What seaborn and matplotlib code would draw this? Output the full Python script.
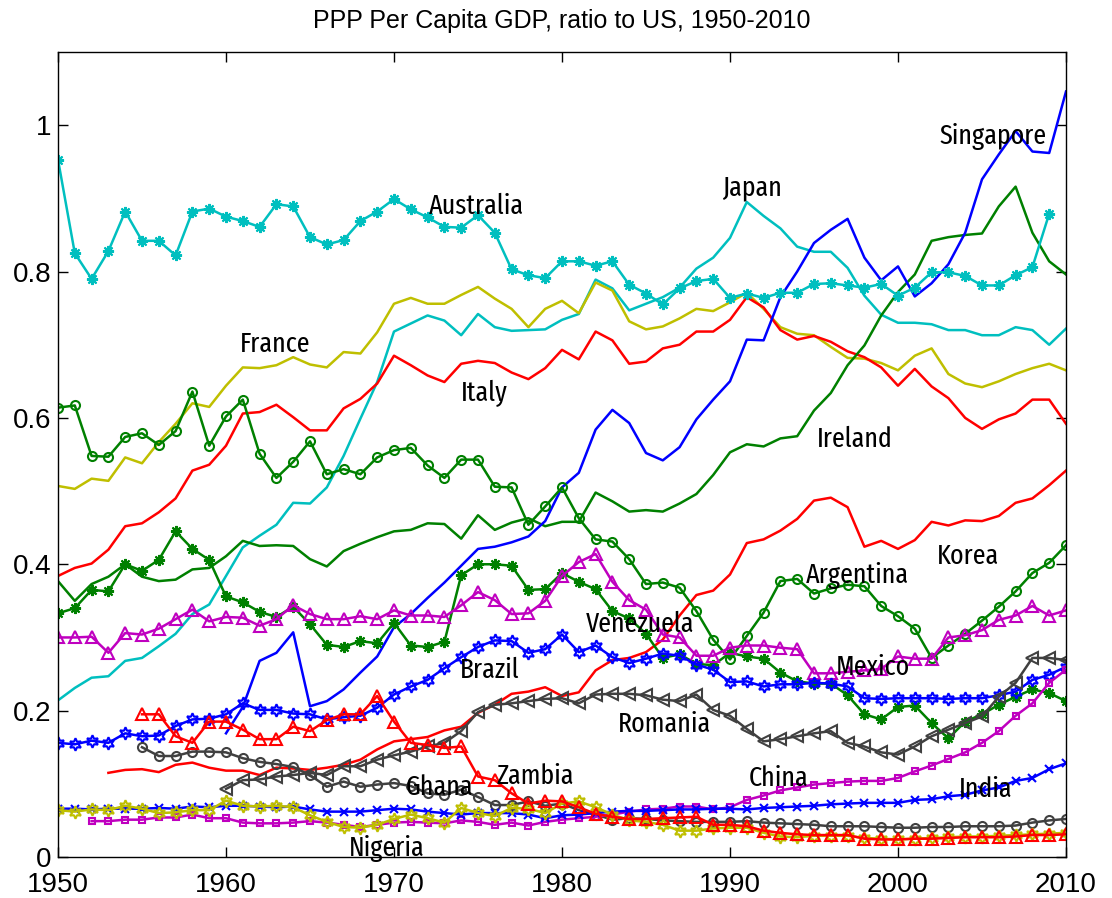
import os
import numpy as np
import pandas as pd
import matplotlib
matplotlib.use("Agg")
import matplotlib.pyplot as plt
from matplotlib import font_manager as fm
import seaborn as sns

# ---------------- data (ratio of PPP per-capita GDP to US) ----------------
australia_start = 1950
australia = [0.953, 0.825, 0.790, 0.828, 0.882, 0.842, 0.842, 0.822, 0.882, 0.886,
             0.875, 0.869, 0.861, 0.892, 0.889, 0.847, 0.837, 0.843, 0.869, 0.882,
             0.899, 0.885, 0.874, 0.861, 0.860, 0.877, 0.853, 0.803, 0.795, 0.791,
             0.814, 0.814, 0.808, 0.814, 0.782, 0.770, 0.755, 0.777, 0.787, 0.790,
             0.764, 0.770, 0.764, 0.771, 0.771, 0.783, 0.784, 0.781, 0.778, 0.783,
             0.767, 0.778, 0.799, 0.799, 0.794, 0.781, 0.781, 0.795, 0.806, 0.879]
japan_start = 1950
japan = [0.214, 0.231, 0.245, 0.247, 0.268, 0.272, 0.288, 0.305, 0.332, 0.345,
         0.384, 0.423, 0.439, 0.454, 0.484, 0.483, 0.505, 0.548, 0.599, 0.649,
         0.718, 0.729, 0.740, 0.733, 0.713, 0.742, 0.724, 0.719, 0.720, 0.721,
         0.734, 0.742, 0.789, 0.777, 0.747, 0.756, 0.765, 0.778, 0.804, 0.819,
         0.846, 0.895, 0.876, 0.859, 0.834, 0.827, 0.827, 0.805, 0.767, 0.741,
         0.730, 0.730, 0.728, 0.720, 0.720, 0.713, 0.713, 0.724, 0.720, 0.700, 0.722]
france_start = 1950
france = [0.507, 0.503, 0.517, 0.514, 0.546, 0.538, 0.567, 0.592, 0.620, 0.615,
          0.644, 0.669, 0.668, 0.672, 0.683, 0.673, 0.669, 0.690, 0.688, 0.717,
          0.756, 0.764, 0.756, 0.756, 0.768, 0.779, 0.763, 0.749, 0.724, 0.749,
          0.760, 0.743, 0.785, 0.774, 0.732, 0.721, 0.725, 0.736, 0.749, 0.746,
          0.758, 0.771, 0.749, 0.724, 0.715, 0.713, 0.697, 0.682, 0.681, 0.675,
          0.665, 0.685, 0.695, 0.660, 0.647, 0.642, 0.650, 0.660, 0.668, 0.674, 0.665]
italy_start = 1950
italy = [0.384, 0.395, 0.401, 0.420, 0.452, 0.456, 0.471, 0.490, 0.528, 0.536,
         0.562, 0.606, 0.608, 0.618, 0.601, 0.583, 0.583, 0.613, 0.626, 0.647,
         0.685, 0.672, 0.658, 0.649, 0.674, 0.678, 0.675, 0.662, 0.653, 0.668,
         0.693, 0.680, 0.718, 0.706, 0.674, 0.677, 0.695, 0.700, 0.718, 0.718,
         0.734, 0.765, 0.751, 0.720, 0.707, 0.712, 0.704, 0.691, 0.683, 0.669,
         0.644, 0.667, 0.643, 0.627, 0.600, 0.585, 0.598, 0.606, 0.625, 0.625, 0.592]
singapore_start = 1960
singapore = [0.169, 0.205, 0.268, 0.279, 0.307, 0.206, 0.213, 0.229, 0.252, 0.274,
             0.314, 0.332, 0.354, 0.375, 0.398, 0.421, 0.424, 0.430, 0.438, 0.459,
             0.505, 0.525, 0.584, 0.611, 0.593, 0.552, 0.542, 0.560, 0.598, 0.625,
             0.650, 0.707, 0.706, 0.765, 0.800, 0.839, 0.857, 0.872, 0.819, 0.788,
             0.807, 0.766, 0.784, 0.810, 0.853, 0.926, 0.960, 0.992, 0.964, 0.962, 1.046]
ireland_start = 1950
ireland = [0.377, 0.350, 0.373, 0.383, 0.400, 0.383, 0.377, 0.379, 0.393, 0.395,
           0.411, 0.432, 0.425, 0.426, 0.425, 0.407, 0.397, 0.418, 0.428, 0.437,
           0.445, 0.447, 0.456, 0.455, 0.435, 0.467, 0.447, 0.457, 0.463, 0.452,
           0.458, 0.458, 0.498, 0.486, 0.472, 0.474, 0.472, 0.483, 0.496, 0.522,
           0.553, 0.564, 0.561, 0.572, 0.575, 0.610, 0.634, 0.672, 0.699, 0.740,
           0.772, 0.796, 0.842, 0.847, 0.850, 0.852, 0.889, 0.916, 0.853, 0.814, 0.796]
korea_start = 1953
korea = [0.115, 0.119, 0.120, 0.116, 0.126, 0.129, 0.122,
         0.118, 0.118, 0.112, 0.122, 0.121, 0.119, 0.122, 0.126, 0.133, 0.147,
         0.158, 0.161, 0.164, 0.173, 0.178, 0.197, 0.208, 0.223, 0.226, 0.232,
         0.220, 0.225, 0.255, 0.269, 0.272, 0.280, 0.297, 0.330, 0.358, 0.364,
         0.386, 0.429, 0.434, 0.446, 0.462, 0.487, 0.491, 0.478, 0.424, 0.432,
         0.421, 0.433, 0.458, 0.453, 0.460, 0.459, 0.466, 0.484, 0.490, 0.508, 0.528]
argentina_start = 1950
argentina = [0.614, 0.617, 0.548, 0.547, 0.574, 0.579, 0.563, 0.582, 0.636, 0.562,
             0.602, 0.625, 0.551, 0.518, 0.540, 0.568, 0.523, 0.530, 0.523, 0.546,
             0.556, 0.559, 0.535, 0.518, 0.543, 0.543, 0.506, 0.505, 0.454, 0.479,
             0.505, 0.463, 0.434, 0.431, 0.407, 0.373, 0.375, 0.368, 0.336, 0.297,
             0.270, 0.302, 0.334, 0.377, 0.380, 0.360, 0.367, 0.372, 0.370, 0.343,
             0.329, 0.312, 0.272, 0.289, 0.305, 0.323, 0.342, 0.363, 0.388, 0.402, 0.426]
venezuela_start = 1950
venezuela = [0.333, 0.340, 0.365, 0.363, 0.400, 0.391, 0.406, 0.445, 0.421, 0.406,
             0.356, 0.348, 0.335, 0.328, 0.342, 0.318, 0.290, 0.287, 0.295, 0.292,
             0.320, 0.289, 0.287, 0.294, 0.385, 0.400, 0.400, 0.398, 0.365, 0.366,
             0.388, 0.376, 0.366, 0.336, 0.326, 0.305, 0.272, 0.277, 0.264, 0.262,
             0.279, 0.274, 0.271, 0.252, 0.240, 0.237, 0.237, 0.221, 0.195, 0.188,
             0.205, 0.207, 0.183, 0.162, 0.185, 0.195, 0.208, 0.219, 0.229, 0.224, 0.213]
mexico_start = 1950
mexico = [0.300, 0.300, 0.301, 0.279, 0.306, 0.304, 0.312, 0.325, 0.338, 0.322,
          0.328, 0.327, 0.316, 0.325, 0.344, 0.332, 0.325, 0.325, 0.329, 0.325,
          0.337, 0.330, 0.330, 0.328, 0.344, 0.362, 0.351, 0.332, 0.333, 0.350,
          0.384, 0.403, 0.414, 0.376, 0.351, 0.338, 0.304, 0.300, 0.275, 0.275,
          0.286, 0.289, 0.289, 0.286, 0.284, 0.251, 0.251, 0.253, 0.255, 0.257,
          0.274, 0.271, 0.271, 0.300, 0.303, 0.310, 0.324, 0.330, 0.343, 0.330, 0.337]
brazil_start = 1950
brazil = [0.156, 0.154, 0.159, 0.156, 0.169, 0.165, 0.166, 0.179, 0.188, 0.189,
          0.195, 0.210, 0.201, 0.201, 0.196, 0.195, 0.188, 0.191, 0.193, 0.204,
          0.222, 0.233, 0.242, 0.258, 0.273, 0.287, 0.296, 0.295, 0.279, 0.284,
          0.304, 0.280, 0.289, 0.273, 0.265, 0.271, 0.278, 0.275, 0.263, 0.256,
          0.239, 0.240, 0.233, 0.236, 0.236, 0.238, 0.237, 0.233, 0.217, 0.216,
          0.217, 0.217, 0.217, 0.216, 0.217, 0.217, 0.221, 0.226, 0.242, 0.249, 0.260]
romania_start = 1960
romania = [0.093, 0.105, 0.106, 0.110, 0.112, 0.115, 0.112, 0.124, 0.124, 0.133,
           0.139, 0.144, 0.151, 0.156, 0.172, 0.198, 0.208, 0.210, 0.213, 0.216,
           0.217, 0.210, 0.222, 0.223, 0.223, 0.221, 0.215, 0.213, 0.222, 0.201,
           0.193, 0.175, 0.158, 0.161, 0.165, 0.169, 0.172, 0.156, 0.151, 0.143,
           0.140, 0.151, 0.165, 0.174, 0.183, 0.192, 0.219, 0.238, 0.272, 0.272, 0.269]
ghana_start = 1955
ghana = [0.150, 0.138, 0.138, 0.144, 0.144,
         0.143, 0.135, 0.130, 0.127, 0.123, 0.112, 0.096, 0.103, 0.096, 0.099,
         0.101, 0.097, 0.087, 0.085, 0.092, 0.082, 0.071, 0.071, 0.076, 0.070,
         0.073, 0.064, 0.058, 0.051, 0.053, 0.052, 0.050, 0.049, 0.048, 0.048,
         0.048, 0.049, 0.047, 0.046, 0.045, 0.044, 0.042, 0.042, 0.042, 0.041,
         0.040, 0.040, 0.041, 0.041, 0.042, 0.042, 0.042, 0.043, 0.047, 0.050, 0.052]
zambia_start = 1955
zambia = [0.195, 0.195, 0.165, 0.156, 0.185,
          0.185, 0.174, 0.161, 0.161, 0.178, 0.172, 0.187, 0.195, 0.195, 0.220,
          0.185, 0.156, 0.153, 0.149, 0.151, 0.110, 0.105, 0.087, 0.073, 0.077,
          0.076, 0.068, 0.059, 0.055, 0.052, 0.052, 0.053, 0.054, 0.055, 0.044,
          0.044, 0.042, 0.036, 0.033, 0.031, 0.030, 0.030, 0.030, 0.025, 0.024,
          0.024, 0.025, 0.025, 0.026, 0.027, 0.027, 0.027, 0.028, 0.030, 0.030, 0.031]
china_start = 1952
china = [0.049, 0.049, 0.051, 0.051, 0.054, 0.054, 0.058, 0.053,
         0.053, 0.047, 0.046, 0.046, 0.047, 0.049, 0.047, 0.044, 0.041, 0.044,
         0.047, 0.048, 0.047, 0.046, 0.050, 0.048, 0.044, 0.047, 0.043, 0.048,
         0.051, 0.053, 0.055, 0.058, 0.062, 0.065, 0.066, 0.069, 0.069, 0.065,
         0.068, 0.078, 0.084, 0.091, 0.095, 0.099, 0.101, 0.103, 0.104, 0.104,
         0.108, 0.117, 0.125, 0.134, 0.143, 0.156, 0.172, 0.193, 0.210, 0.238, 0.256]
india_start = 1950
india = [0.066, 0.066, 0.065, 0.066, 0.066, 0.066, 0.067, 0.066, 0.069, 0.068,
         0.070, 0.070, 0.069, 0.068, 0.069, 0.065, 0.062, 0.062, 0.062, 0.064,
         0.066, 0.065, 0.062, 0.060, 0.058, 0.060, 0.060, 0.060, 0.058, 0.053,
         0.057, 0.058, 0.060, 0.062, 0.063, 0.063, 0.064, 0.065, 0.065, 0.066,
         0.066, 0.065, 0.067, 0.068, 0.069, 0.070, 0.072, 0.073, 0.074, 0.074,
         0.074, 0.078, 0.079, 0.083, 0.085, 0.091, 0.095, 0.104, 0.108, 0.120, 0.128]
nigeria_start = 1950
nigeria = [0.064, 0.062, 0.065, 0.064, 0.070, 0.066, 0.060, 0.061, 0.064, 0.064,
           0.077, 0.070, 0.069, 0.070, 0.068, 0.057, 0.048, 0.041, 0.040, 0.044,
           0.052, 0.058, 0.053, 0.047, 0.067, 0.060, 0.056, 0.067, 0.066, 0.060,
           0.073, 0.076, 0.068, 0.058, 0.050, 0.048, 0.044, 0.036, 0.036, 0.039,
           0.040, 0.040, 0.033, 0.028, 0.027, 0.029, 0.029, 0.029, 0.026, 0.025,
           0.024, 0.025, 0.026, 0.027, 0.028, 0.028, 0.029, 0.030, 0.031, 0.032, 0.033]

x_ticks = [1950, 1960, 1970, 1980, 1990, 2000, 2010]
y_ticks = [0, 0.2, 0.4, 0.6, 0.8, 1.0]
y_tick_labels = ["0", "0.2", "0.4", "0.6", "0.8", "1"]
title = "PPP Per Capita GDP, ratio to US, 1950-2010"

# label: (text, x-year, y-value)
labels = [("Australia", 1972.1, 0.889), ("Japan", 1989.5, 0.914),
          ("Singapore", 2002.5, 0.985), ("France", 1960.8, 0.701),
          ("Italy", 1974.0, 0.633), ("Ireland", 1995.2, 0.571),
          ("Korea", 2002.3, 0.411), ("Argentina", 1994.5, 0.384),
          ("Venezuela", 1981.4, 0.318), ("Mexico", 1996.3, 0.260),
          ("Brazil", 1973.9, 0.255), ("Romania", 1983.3, 0.182),
          ("Zambia", 1976.1, 0.111), ("Ghana", 1970.7, 0.096),
          ("China", 1991.1, 0.108), ("India", 2003.6, 0.093),
          ("Nigeria", 1967.3, 0.012)]

# ---------------- styles ----------------
C = (0.0, 0.75, 0.75)
M = (0.75, 0.0, 0.75)
Y = (0.75, 0.75, 0.0)
G = (0.0, 0.5, 0.0)
R = (1.0, 0.0, 0.0)
B = (0.0, 0.0, 1.0)
K = (0.25, 0.25, 0.25)
ASTER = (8, 2, 0)
HEXA = (6, 1, 0)

series = [
    (japan_start, japan, C, None, 0),
    (france_start, france, Y, None, 0),
    (italy_start, italy, R, None, 0),
    (ireland_start, ireland, G, None, 0),
    (korea_start, korea, R, None, 0),
    (singapore_start, singapore, B, None, 0),
    (australia_start, australia, C, ASTER, 8),
    (argentina_start, argentina, G, "o", 6.5),
    (venezuela_start, venezuela, G, ASTER, 8),
    (mexico_start, mexico, M, "^", 8),
    (brazil_start, brazil, B, HEXA, 9),
    (romania_start, romania, K, "<", 8),
    (ghana_start, ghana, K, "o", 6.5),
    (china_start, china, M, "s", 4),
    (india_start, india, B, "x", 5.5),
    (nigeria_start, nigeria, Y, HEXA, 9),
    (zambia_start, zambia, R, "^", 8),
]


# ---------------- pick a narrow / condensed regular font for the labels ----------------
HEAVY = ("bold", "semibold", "semi-bold", "demibold", "black", "heavy",
         "medium", "thin", "hairline", "italic", "oblique")


def _weight(f):
    w = f.weight
    if isinstance(w, str):
        return {"normal": 400, "regular": 400, "book": 400, "light": 300,
                "medium": 500}.get(w.lower(), 700)
    return int(w)


def _score(f):
    base = os.path.basename(f.fname).lower()
    name = f.name.lower()
    if any(h in base for h in HEAVY) or f.style != "normal":
        return 0
    if _weight(f) != 400:
        return 0
    if "mono" in name or "cjk" in name:
        return 0
    st = f.stretch
    st = st.lower() if isinstance(st, str) else st
    key = name.replace(" ", "") + base
    if "extracondensed" in key or st in ("extra-condensed", "ultra-condensed", 200, 100):
        return 3
    if "narrow" in key or "condensed" in key or st in ("condensed", 300):
        return 2
    return 0


def pick_label_font():
    best, best_score = None, 0
    for f in fm.fontManager.ttflist:
        s = _score(f)
        if s > best_score:
            best, best_score = f, s
    if best is None:
        return fm.FontProperties(family="DejaVu Sans")
    return fm.FontProperties(fname=best.fname)


label_fp = pick_label_font()

plt.rcParams["font.family"] = ["Liberation Sans", "DejaVu Sans"]

fig = plt.figure(figsize=(11.12, 8.98), dpi=100)
ax = fig.add_axes([58 / 1112, 41 / 898, 1008 / 1112, 805 / 898])

for start, vals, color, marker, ms in series:
    yrs = np.arange(start, start + len(vals))
    df = pd.DataFrame({"year": yrs, "value": vals})
    kw = dict(color=color, linewidth=1.8)
    if marker is not None:
        kw.update(marker=marker, markersize=ms, markerfacecolor="none",
                  markeredgecolor=color, markeredgewidth=1.5)
    sns.lineplot(data=df, x="year", y="value", ax=ax, estimator=None,
                 sort=False, **kw)

ax.set_xlim(1950, 2010)
ax.set_ylim(0, 1.1)

# fit label font size so that "Australia" spans about 95 px, as in the reference
renderer = fig.canvas.get_renderer()
probe = ax.text(0, 0, "Australia", fontproperties=label_fp, fontsize=20)
w20 = probe.get_window_extent(renderer=renderer).width
probe.remove()
label_size = min(25.0, 20.0 * 95.0 / max(w20, 1.0))

for txt, xv, yv in labels:
    t = ax.text(xv, yv, txt, ha="left", va="center", fontproperties=label_fp,
                color="black")
    t.set_fontsize(label_size)

ax.set_xticks(x_ticks)
ax.set_xticklabels([str(v) for v in x_ticks])
ax.set_yticks(y_ticks)
ax.set_yticklabels(y_tick_labels)
ax.set_xlabel("")
ax.set_ylabel("")
ax.tick_params(direction="in", length=7, width=1, labelsize=20,
               top=True, right=True)
ax.tick_params(axis="x", pad=11)
ax.tick_params(axis="y", pad=5)
for sp in ax.spines.values():
    sp.set_linewidth(1)
    sp.set_color("black")
ax.set_title(title, fontsize=18, pad=17)
ax.set_facecolor("white")
fig.patch.set_facecolor("white")

fig.savefig("out.png", dpi=100)
